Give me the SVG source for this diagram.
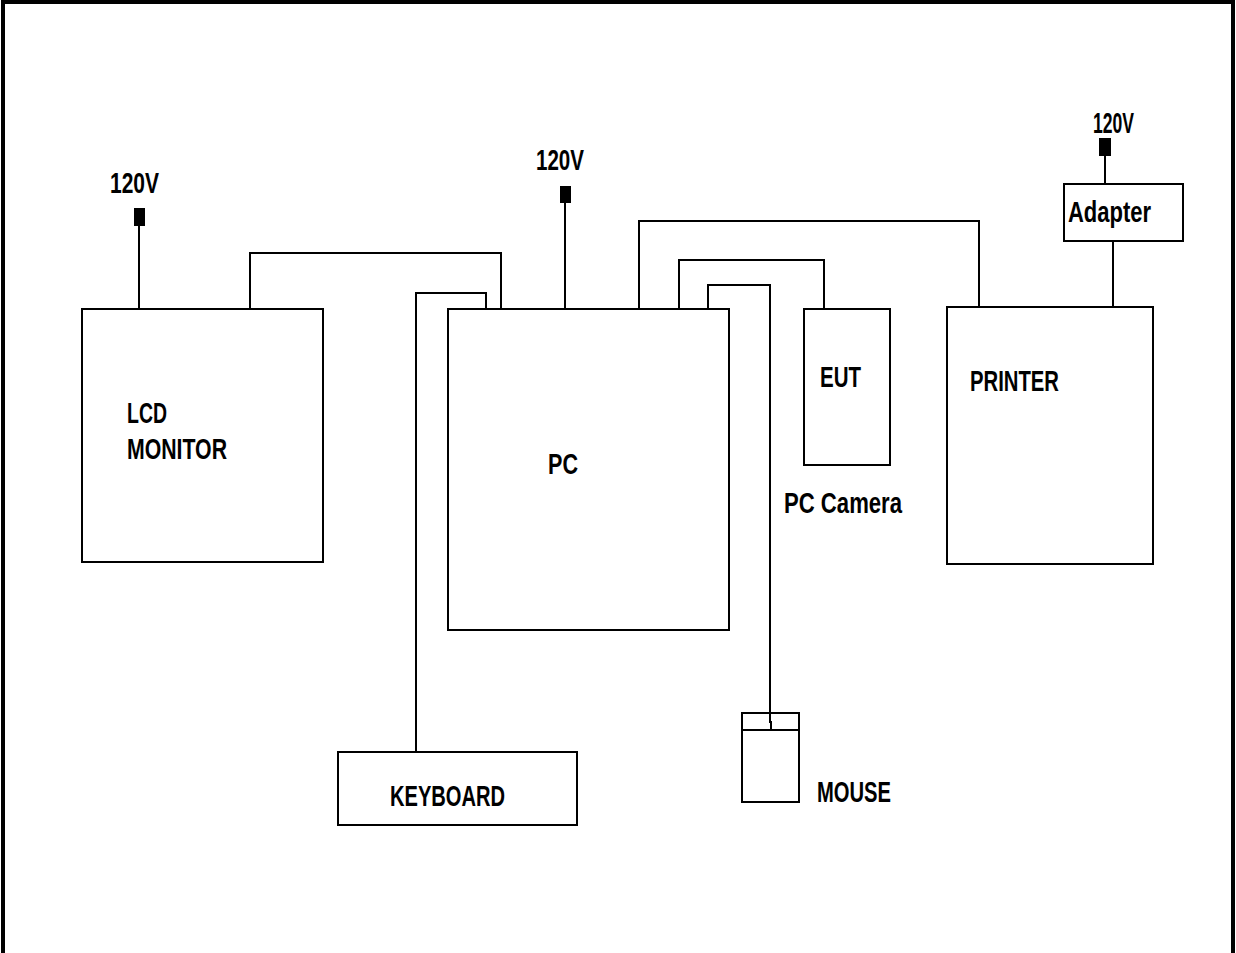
<svg xmlns="http://www.w3.org/2000/svg" width="1236" height="953" viewBox="0 0 1236 953">
<style>
.box{fill:#fff;stroke:#000;stroke-width:2}
.w{fill:none;stroke:#000;stroke-width:2}
.plug{fill:#000}
text{font-family:"Liberation Sans Narrow","Liberation Sans",Arial,sans-serif;font-weight:bold;font-size:29px;fill:#000}
</style>
<rect width="1236" height="953" fill="#fff"/>
<path d="M3,953 V2 H1233 V953" fill="none" stroke="#000" stroke-width="4"/>
<g id="connectors">
<path class="w" d="M139,226 V309"/>
<path class="w" d="M250,309 V253 H501 V309"/>
<path class="w" d="M565,203 V309"/>
<path class="w" d="M486,309 V293 H416 V752"/>
<path class="w" d="M639,309 V221 H979 V307"/>
<path class="w" d="M679,309 V260 H824 V309"/>
<path class="w" d="M708,309 V285 H770 V722 H771 V730"/>
<path class="w" d="M1105,156 V184"/>
<path class="w" d="M1113,241 V307"/>
</g>
<g id="plug-monitor"><rect class="plug" x="134" y="208" width="11" height="18"/><text x="110" y="193" textLength="49" lengthAdjust="spacingAndGlyphs">120V</text></g>
<g id="plug-pc"><rect class="plug" x="560" y="186" width="11" height="17"/><text x="536" y="170" textLength="48" lengthAdjust="spacingAndGlyphs">120V</text></g>
<g id="plug-adapter"><rect class="plug" x="1099" y="138" width="12" height="18"/><text x="1093" y="133" textLength="41" lengthAdjust="spacingAndGlyphs">120V</text></g>
<g id="lcd-monitor">
<rect class="box" x="82" y="309" width="241" height="253"/>
<text x="127" y="423" textLength="40" lengthAdjust="spacingAndGlyphs">LCD</text>
<text x="127" y="459" textLength="100" lengthAdjust="spacingAndGlyphs">MONITOR</text>
</g>
<g id="pc">
<rect class="box" x="448" y="309" width="281" height="321"/>
<text x="548" y="474" textLength="30" lengthAdjust="spacingAndGlyphs">PC</text>
</g>
<g id="eut">
<rect class="box" x="804" y="309" width="86" height="156"/>
<text x="820" y="387" textLength="41" lengthAdjust="spacingAndGlyphs">EUT</text>
</g>
<g id="pc-camera-label"><text x="784" y="513" textLength="118" lengthAdjust="spacingAndGlyphs">PC Camera</text></g>
<g id="printer">
<rect class="box" x="947" y="307" width="206" height="257"/>
<text x="970" y="391" textLength="89" lengthAdjust="spacingAndGlyphs">PRINTER</text>
</g>
<g id="adapter">
<rect class="box" x="1064" y="184" width="119" height="57"/>
<text x="1068" y="222" textLength="83" lengthAdjust="spacingAndGlyphs">Adapter</text>
</g>
<g id="keyboard">
<rect class="box" x="338" y="752" width="239" height="73"/>
<text x="390" y="806" textLength="115" lengthAdjust="spacingAndGlyphs">KEYBOARD</text>
</g>
<g id="mouse">
<rect class="box" x="742" y="713" width="57" height="89" style="fill:none"/>
<path class="w" d="M742,730 H800"/>
<text x="817" y="802" textLength="74" lengthAdjust="spacingAndGlyphs">MOUSE</text>
</g>
</svg>
